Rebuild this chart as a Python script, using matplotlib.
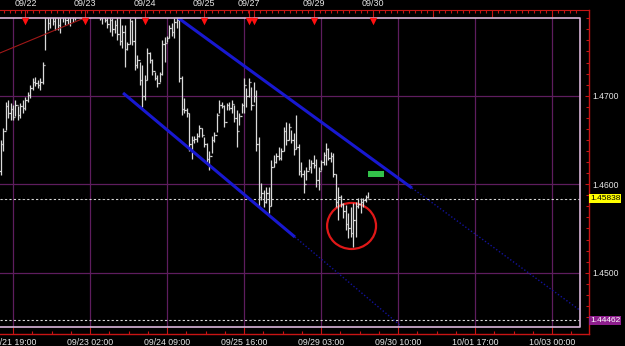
import matplotlib
matplotlib.use('Agg')
import matplotlib.pyplot as plt
from matplotlib.patches import Ellipse, Rectangle
from matplotlib.ticker import MultipleLocator
import numpy as np

plt.rcParams['font.family'] = ['Liberation Sans', 'DejaVu Sans']

# hourly bars, position 0 = 09/21 19:00
bar_pos = np.arange(-5, 144)
highs = [
    1.4650, 1.4663, 1.4693, 1.4695, 1.4692, 1.4690, 1.4695, 1.4688, 1.4692, 1.4695,
    1.4698, 1.4704, 1.4712, 1.4720, 1.4721, 1.4718, 1.4720, 1.4738, 1.4795, 1.4801,
    1.4798, 1.4805, 1.4796, 1.4799, 1.4797, 1.4803, 1.4806, 1.4801, 1.4808, 1.4804,
    1.4810, 1.4812, 1.4818, 1.4809, 1.4815, 1.4821, 1.4816, 1.4811, 1.4813, 1.4804,
    1.4800, 1.4798, 1.4802, 1.4795, 1.4793, 1.4788, 1.4785, 1.4794, 1.4791, 1.4780,
    1.4780, 1.4761, 1.4788, 1.4785, 1.4792, 1.4746, 1.4738, 1.4735, 1.4723, 1.4754,
    1.4749, 1.4742, 1.4727, 1.4723, 1.4727, 1.4763, 1.4766, 1.4768, 1.4780, 1.4782,
    1.4788, 1.4795, 1.4792, 1.4722, 1.4697, 1.4686, 1.4681, 1.4655, 1.4655, 1.4658,
    1.4667, 1.4663, 1.4653, 1.4646, 1.4638, 1.4655, 1.4659, 1.4681, 1.4695, 1.4693,
    1.4689, 1.4692, 1.4693, 1.4695, 1.4690, 1.4684, 1.4680, 1.4692, 1.4720, 1.4709,
    1.4720, 1.4710, 1.4715, 1.4706, 1.4653, 1.4601, 1.4593, 1.4597, 1.4597, 1.4627,
    1.4633, 1.4635, 1.4642, 1.4641, 1.4665, 1.4670, 1.4669, 1.4661, 1.4658, 1.4678,
    1.4645, 1.4625, 1.4616, 1.4619, 1.4629, 1.4627, 1.4633, 1.4629, 1.4619, 1.4627,
    1.4636, 1.4646, 1.4641, 1.4636, 1.4635, 1.4612, 1.4597, 1.4588, 1.4579, 1.4576,
    1.4567, 1.4574, 1.4579, 1.4580, 1.4584, 1.4584, 1.4584, 1.4588, 1.4591,
]
lows = [
    1.4610, 1.4638, 1.4661, 1.4675, 1.4672, 1.4672, 1.4677, 1.4672, 1.4675, 1.4681,
    1.4684, 1.4693, 1.4697, 1.4706, 1.4711, 1.4709, 1.4706, 1.4713, 1.4752, 1.4774,
    1.4776, 1.4780, 1.4774, 1.4774, 1.4771, 1.4783, 1.4780, 1.4781, 1.4779, 1.4783,
    1.4785, 1.4792, 1.4798, 1.4785, 1.4793, 1.4802, 1.4797, 1.4794, 1.4792, 1.4790,
    1.4785, 1.4781, 1.4783, 1.4776, 1.4772, 1.4768, 1.4771, 1.4763, 1.4757, 1.4754,
    1.4732, 1.4752, 1.4758, 1.4757, 1.4729, 1.4731, 1.4712, 1.4687, 1.4695, 1.4718,
    1.4737, 1.4723, 1.4718, 1.4710, 1.4715, 1.4723, 1.4738, 1.4761, 1.4765, 1.4768,
    1.4765, 1.4776, 1.4715, 1.4678, 1.4681, 1.4676, 1.4638, 1.4629, 1.4646, 1.4648,
    1.4653, 1.4653, 1.4642, 1.4624, 1.4616, 1.4635, 1.4648, 1.4659, 1.4680, 1.4686,
    1.4665, 1.4684, 1.4684, 1.4680, 1.4670, 1.4642, 1.4667, 1.4680, 1.4681, 1.4687,
    1.4698, 1.4684, 1.4693, 1.4638, 1.4574, 1.4582, 1.4574, 1.4579, 1.4568, 1.4575,
    1.4619, 1.4624, 1.4627, 1.4627, 1.4638, 1.4644, 1.4650, 1.4646, 1.4633, 1.4640,
    1.4610, 1.4608, 1.4590, 1.4605, 1.4616, 1.4613, 1.4618, 1.4597, 1.4593, 1.4616,
    1.4622, 1.4622, 1.4627, 1.4625, 1.4608, 1.4574, 1.4559, 1.4574, 1.4562, 1.4548,
    1.4539, 1.4540, 1.4529, 1.4540, 1.4573, 1.4568, 1.4574, 1.4580, 1.4584,
]
closes = [
    1.4645, 1.4660, 1.4688, 1.4680, 1.4685, 1.4676, 1.4690, 1.4678, 1.4688, 1.4686,
    1.4695, 1.4701, 1.4709, 1.4716, 1.4714, 1.4712, 1.4716, 1.4735, 1.4790, 1.4782,
    1.4795, 1.4784, 1.4790, 1.4780, 1.4792, 1.4795, 1.4786, 1.4797, 1.4789, 1.4800,
    1.4796, 1.4806, 1.4803, 1.4795, 1.4810, 1.4808, 1.4801, 1.4806, 1.4797, 1.4795,
    1.4788, 1.4792, 1.4786, 1.4781, 1.4785, 1.4775, 1.4780, 1.4770, 1.4762, 1.4772,
    1.4753, 1.4758, 1.4784, 1.4762, 1.4735, 1.4740, 1.4718, 1.4700, 1.4718, 1.4748,
    1.4740, 1.4728, 1.4720, 1.4714, 1.4725, 1.4758, 1.4760, 1.4765, 1.4776, 1.4772,
    1.4783, 1.4785, 1.4720, 1.4685, 1.4684, 1.4680, 1.4645, 1.4650, 1.4651, 1.4655,
    1.4663, 1.4656, 1.4645, 1.4628, 1.4632, 1.4650, 1.4656, 1.4678, 1.4690, 1.4688,
    1.4670, 1.4689, 1.4686, 1.4691, 1.4675, 1.4660, 1.4677, 1.4689, 1.4712, 1.4700,
    1.4715, 1.4690, 1.4700, 1.4645, 1.4585, 1.4590, 1.4580, 1.4590, 1.4575, 1.4620,
    1.4625, 1.4632, 1.4630, 1.4638, 1.4660, 1.4650, 1.4665, 1.4650, 1.4640, 1.4642,
    1.4615, 1.4612, 1.4600, 1.4615, 1.4620, 1.4624, 1.4622, 1.4605, 1.4615, 1.4625,
    1.4633, 1.4640, 1.4630, 1.4632, 1.4612, 1.4580, 1.4585, 1.4578, 1.4570, 1.4555,
    1.4550, 1.4545, 1.4560, 1.4575, 1.4578, 1.4580, 1.4582, 1.4585, 1.45838,
]
opens = [1.4615] + closes[:-1]

last_price = 1.45838
low_mark = 1.44462

bottom_ticks = [0, 31, 62, 93, 124, 155, 186, 217]
bottom_labels = ['09/21 19:00', '09/23 02:00', '09/24 09:00', '09/25 16:00',
                 '09/29 03:00', '09/30 10:00', '10/01 17:00', '10/03 00:00']
top_ticks = [5, 29, 53, 77, 95, 97, 121, 145, 169, 193, 217]
top_labels = ['09/22', '09/23', '09/24', '09/25', '09/27', '', '09/29', '09/30', '', '', '']
arrow_pos = [5, 29, 53, 77, 95, 97, 121, 145]
price_ticks = [1.45, 1.46, 1.47]
price_labels = ['1.4500', '1.4600', '1.4700']

# drawn objects
upper_x, upper_y = [66.4, 160.6], [1.47881, 1.45957]
upper_ext_x, upper_ext_y = [160.6, 229.0], [1.45957, 1.44560]
lower_x, lower_y = [44.3, 113.5], [1.47031, 1.45403]
lower_ext_x, lower_ext_y = [113.5, 160.0], [1.45403, 1.44309]
trend_x, trend_y = [-6.0, 40.0], [1.47474, 1.48009]
circle_xy, circle_w, circle_h = (136.3, 1.45528), 19.7, 0.0052
box_xy, box_w, box_h = (142.8, 1.46085), 6.7, 0.00068

red = '#c81414'
purple = '#5e1d5e'
bar_col = '#dadada'

fig = plt.figure(figsize=(6.25, 3.46), dpi=100, facecolor='black')
ax = fig.add_axes([0, 1 - 326.7 / 346, 580 / 625, 309 / 346])
ax.set_facecolor('black')
ax.set_xlim(-5.234, 228.26)
ax.set_ylim(1.443899, 1.478813)

ax.grid(True, which='major', color=purple, lw=0.9)
ax.set_axisbelow(True)

# bars
ax.vlines(bar_pos, lows, highs, color=bar_col, lw=0.9)
ax.hlines(opens, bar_pos - 0.5, bar_pos, color=bar_col, lw=0.9)
ax.hlines(closes, bar_pos, bar_pos + 0.5, color=bar_col, lw=0.9)

ax.axhline(last_price, color='#d8d8d8', lw=0.8, ls=(0, (2, 2)))
ax.axhline(low_mark, color='#d8d8d8', lw=0.8, ls=(0, (2, 2)))

ax.plot(trend_x, trend_y, color='#a01818', lw=0.8)
ax.plot(upper_x, upper_y, color='#1818d0', lw=2.2, solid_capstyle='butt')
ax.plot(lower_x, lower_y, color='#1818d0', lw=2.2, solid_capstyle='butt')
ax.plot(upper_ext_x, upper_ext_y, color='#12129a', lw=1, ls=(0, (1, 1.5)))
ax.plot(lower_ext_x, lower_ext_y, color='#12129a', lw=1, ls=(0, (1, 1.5)))
ax.add_patch(Ellipse(circle_xy, circle_w, circle_h, fill=False, ec='#e01818', lw=1.6))
ax.add_patch(Rectangle(box_xy, box_w, box_h, fc='#33c24a', ec='none'))

ax.scatter(arrow_pos, [0.988] * len(arrow_pos), marker='v', s=30, color='#ff1010',
           transform=ax.get_xaxis_transform(), clip_on=False, zorder=5, lw=0)

# pink frame
ax.plot([0, 1, 1, 0], [1, 1, 0, 0], transform=ax.transAxes, color='#d9b5d9',
        lw=1.2, clip_on=False)

# axes styling
for side in ['left', 'top']:
    ax.spines[side].set_visible(False)
ax.spines['right'].set_position(('outward', 6.5))
ax.spines['bottom'].set_position(('outward', 5.3))
for side in ['right', 'bottom']:
    ax.spines[side].set_color(red)
    ax.spines[side].set_linewidth(1)
ax.spines['right'].set_bounds(1.44307, 1.47968)
ax.spines['bottom'].set_bounds(-5.3, 231.9)

ax.yaxis.tick_right()
ax.set_yticks(price_ticks, labels=price_labels)
ax.yaxis.set_minor_locator(MultipleLocator(0.00125))
ax.set_xticks(bottom_ticks, labels=bottom_labels)
ax.xaxis.set_minor_locator(MultipleLocator(7.75))
ax.tick_params(which='both', direction='in', color=red, labelcolor='#e6e6e6', width=0.8)
ax.tick_params(axis='y', which='major', length=3, labelsize=6.2, pad=2.2)
ax.tick_params(axis='y', which='minor', length=2.2)
ax.tick_params(axis='x', which='major', length=5.3, labelsize=6.3, pad=3)
ax.tick_params(axis='x', which='minor', length=2.2)

top = ax.secondary_xaxis(1 + 7.7 / 309)
top.spines['top'].set_color(red)
top.spines['top'].set_bounds(-5.3, 231.9)
top.set_xticks(top_ticks, labels=top_labels)
top.xaxis.set_minor_locator(MultipleLocator(2.4, offset=1.0))
top.tick_params(which='both', direction='in', color=red, labelcolor='#e6e6e6', width=0.8)
top.tick_params(which='major', length=5, labelsize=6.5, pad=1.2)
top.tick_params(which='minor', length=2.2)

# price tags
ax.text(590 / 580, last_price, '1.45838', transform=ax.get_yaxis_transform(),
        va='center', ha='left', fontsize=6, color='black',
        bbox=dict(boxstyle='square,pad=0.12', fc='#ffff00', ec='none'))
ax.text(590 / 580, low_mark, '1.44462', transform=ax.get_yaxis_transform(),
        va='center', ha='left', fontsize=6, color='white',
        bbox=dict(boxstyle='square,pad=0.12', fc='#8e1f8e', ec='none'))

fig.savefig('out.png', dpi=100, facecolor='black')
